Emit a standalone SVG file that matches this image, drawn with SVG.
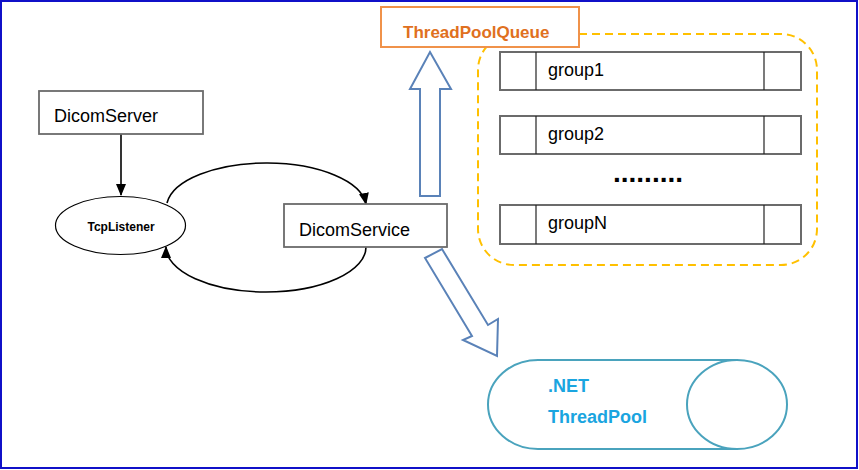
<svg xmlns="http://www.w3.org/2000/svg" width="859" height="470" viewBox="0 0 859 470">
<defs>
<style>
text{font-family:"Liberation Sans",Arial,sans-serif;}
.box{fill:#fff;stroke:#6b6b6b;stroke-width:1.8;}
.lbl{font-size:18px;fill:#000;}
.grp{fill:#fff;stroke:#6b6b6b;stroke-width:2;}
.div{stroke:#222;stroke-width:1.2;}
.blk{fill:#fff;stroke:#5a82b8;stroke-width:2;stroke-linejoin:miter;}
.conn{fill:none;stroke:#000;stroke-width:1.6;}
</style>
<marker id="ah" markerWidth="12" markerHeight="10" refX="11" refY="5" orient="auto" markerUnits="userSpaceOnUse">
<path d="M0,0 L12,5 L0,10 Z" fill="#000"/>
</marker>
</defs>
<rect x="0" y="0" width="859" height="470" fill="#fff"/>
<rect x="1" y="1" width="856" height="467" fill="none" stroke="#1010c8" stroke-width="2"/>

<g id="QueueGroups">
<rect x="478" y="34" width="339" height="231" rx="36" ry="36" fill="none" stroke="#ffc000" stroke-width="2" stroke-dasharray="8,5"/>
<g id="group1">
<rect class="grp" x="500" y="52" width="301" height="38"/>
<line class="div" x1="536" y1="52" x2="536" y2="90"/>
<line class="div" x1="764" y1="52" x2="764" y2="90"/>
<text class="lbl" x="548" y="76">group1</text>
</g>
<g id="group2">
<rect class="grp" x="500" y="116" width="301" height="38"/>
<line class="div" x1="536" y1="116" x2="536" y2="154"/>
<line class="div" x1="764" y1="116" x2="764" y2="154"/>
<text class="lbl" x="548" y="140">group2</text>
</g>
<text x="613" y="182" font-size="28" font-weight="bold">.........</text>
<g id="groupN">
<rect class="grp" x="500" y="205" width="301" height="39"/>
<line class="div" x1="536" y1="205" x2="536" y2="244"/>
<line class="div" x1="764" y1="205" x2="764" y2="244"/>
<text class="lbl" x="548" y="229">groupN</text>
</g>
</g>

<g id="connectors">
<line class="conn" x1="121" y1="134" x2="121" y2="195" marker-end="url(#ah)"/>
<path class="conn" d="M167,203 A100 45 0 0 1 366,204" marker-end="url(#ah)"/>
<path class="conn" d="M366,247 A100 45 0 0 1 166,247" marker-end="url(#ah)"/>
<polygon class="blk" points="420,196 440,196 440,89 451,89 430,52 410,89 420,89"/>
<polygon class="blk" points="425,258 442,249 488,325 498,319 497,356 463,340 472,336"/>
</g>

<g id="DicomServer">
<rect class="box" x="39" y="91" width="164" height="43"/>
<text class="lbl" x="54" y="122">DicomServer</text>
</g>

<g id="TcpListener">
<ellipse cx="120.5" cy="225.5" rx="65" ry="29" fill="#fff" stroke="#000" stroke-width="1.2"/>
<text x="121" y="231" font-size="12" font-weight="bold" text-anchor="middle">TcpListener</text>
</g>

<g id="DicomService">
<rect class="box" x="284" y="204" width="163" height="43"/>
<text class="lbl" x="299" y="236">DicomService</text>
</g>

<g id="ThreadPoolQueue">
<rect x="381" y="7" width="198" height="40" fill="#fff" stroke="#f0924a" stroke-width="2"/>
<text x="403" y="38" font-size="17" font-weight="bold" fill="#e07020">ThreadPoolQueue</text>
</g>

<g id="ThreadPool">
<path d="M737,360 L538,360 A50 44.5 0 0 0 538,449 L737,449" fill="#fff" stroke="#4aa3bd" stroke-width="2"/>
<ellipse cx="737" cy="404.5" rx="50" ry="44.5" fill="#fff" stroke="#4aa3bd" stroke-width="2"/>
<text x="548" y="392" font-size="18" font-weight="bold" fill="#1aa5e0">.NET</text>
<text x="548" y="423" font-size="18" font-weight="bold" fill="#1aa5e0">ThreadPool</text>
</g>
</svg>
